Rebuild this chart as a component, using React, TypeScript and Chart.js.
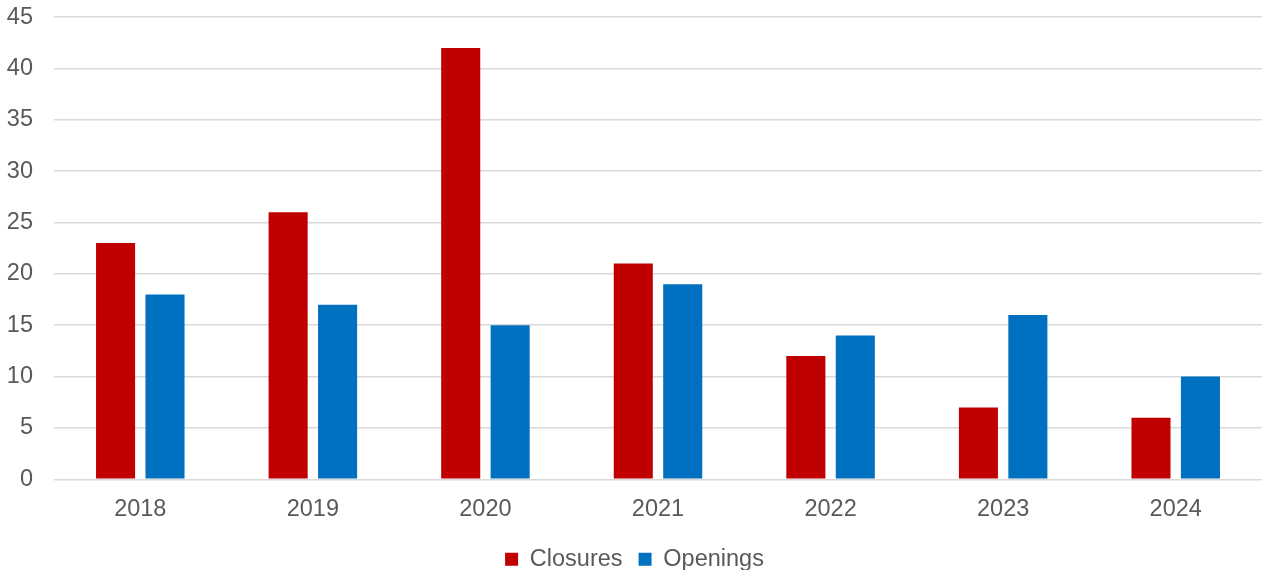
import React, { useEffect, useRef } from "react";
import { Chart, registerables } from "chart.js";

Chart.register(...registerables);

const categories = ["2018", "2019", "2020", "2021", "2022", "2023", "2024"];
const closures = [23, 26, 42, 21, 12, 7, 6];
const openings = [18, 17, 15, 19, 14, 16, 10];
const seriesNames = ["Closures", "Openings"];
const seriesColors = ["#c00000", "#0070c0"];

export default function App() {
  const ref = useRef<HTMLCanvasElement | null>(null);
  useEffect(() => {
    if (!ref.current) return;
    const font = { family: "'Liberation Sans', Arial, sans-serif", size: 23.5 };
    const chart = new Chart(ref.current, {
      type: "bar",
      data: {
        labels: categories,
        datasets: [
          { label: seriesNames[0], data: closures, backgroundColor: seriesColors[0] },
          { label: seriesNames[1], data: openings, backgroundColor: seriesColors[1] },
        ],
      },
      options: {
        animation: false,
        responsive: true,
        maintainAspectRatio: false,
        layout: { padding: { left: 7, right: 0, top: 0, bottom: -11 } },
        datasets: { bar: { barPercentage: 0.79, categoryPercentage: 0.573 } },
        plugins: {
          tooltip: { enabled: false },
          legend: {
            position: "bottom",
            labels: {
              color: "#595959",
              font,
              boxWidth: 13,
              boxHeight: 13,
              padding: 16,
            },
          },
        },
        scales: {
          x: {
            grid: { display: false },
            border: { display: false },
            ticks: { color: "#595959", font, padding: 8 },
          },
          y: {
            min: 0,
            max: 45,
            ticks: { stepSize: 5, color: "#595959", font, padding: 21 },
            grid: { color: "#d9d9d9", lineWidth: 1.5, drawTicks: false },
            border: { display: false },
            afterFit: (scale: any) => {
              scale.width = 47;
            },
          },
        },
      },
    });
    return () => chart.destroy();
  }, []);
  return (
    <div style={{ position: "fixed", left: 0, top: -18, width: 1262, height: 588 }}>
      <canvas ref={ref} />
    </div>
  );
}
